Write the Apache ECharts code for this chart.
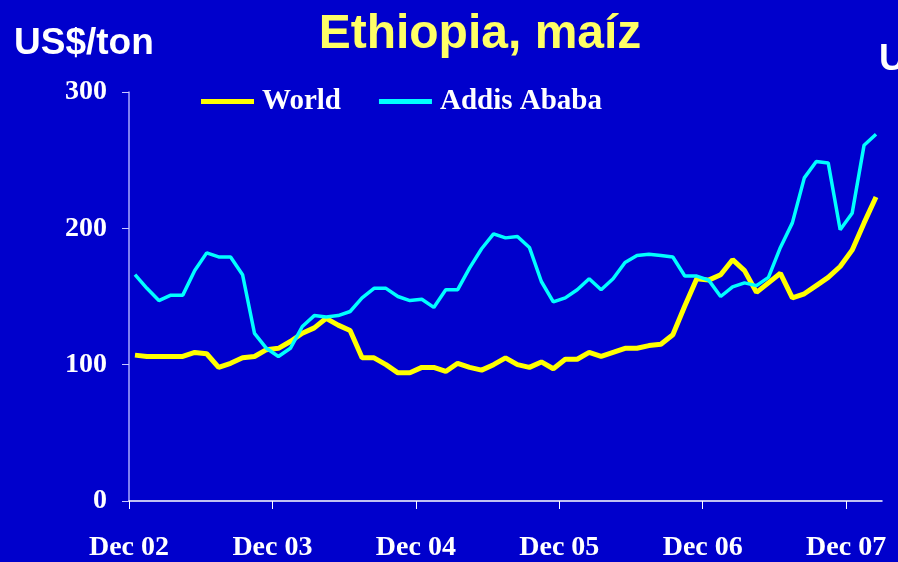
<!DOCTYPE html>
<html>
<head>
<meta charset="utf-8">
<script src="https://cdn.jsdelivr.net/npm/echarts@6/dist/echarts.min.js"></script>
<style>
  html, body { margin: 0; padding: 0; background: #0000cc; }
  #chart { width: 898px; height: 562px; }
</style>
</head>
<body>
<div id="chart"></div>
<script>
// months after Dec 02, one point per month (mid-month)
const tickLabels = ['Dec 02', 'Dec 03', 'Dec 04', 'Dec 05', 'Dec 06', 'Dec 07'];
const tickValues = [0, 12, 24, 36, 48, 60];
const yTicks = [0, 100, 200, 300];

// World maize price, US$/ton
const world = [
  107, 106, 106, 106, 106, 109, 108, 98, 101, 105, 106, 111,
  112, 117, 123, 127, 134, 129, 125, 105, 105, 100, 94, 94,
  98, 98, 95, 101, 98, 96, 100, 105, 100, 98, 102, 97,
  104, 104, 109, 106, 109, 112, 112, 114, 115, 122, 143, 163,
  162, 166, 177, 169, 153, 160, 167, 149, 152, 158, 164, 172,
  184, 204, 223
];

// Addis Ababa maize price, US$/ton
const addis = [
  166, 156, 147, 151, 151, 169, 182, 179, 179, 166, 123, 112,
  106, 112, 128, 136, 135, 136, 139, 149, 156, 156, 150, 147,
  148, 142, 155, 155, 171, 185, 196, 193, 194, 186, 161, 146,
  149, 155, 163, 155, 163, 175, 180, 181, 180, 179, 165, 165,
  162, 150, 157, 160, 158, 164, 186, 204, 237, 249, 248, 199,
  211, 261, 269
];

const chart = echarts.init(document.getElementById('chart'));

const serif = '"Liberation Serif", "Times New Roman", serif';
const sans = '"Liberation Sans", Arial, sans-serif';

chart.setOption({
  backgroundColor: '#0000cc',
  animation: false,
  title: {
    text: 'Ethiopia, maíz',
    left: 475,
    textAlign: 'center',
    top: 6,
    textStyle: { color: '#ffff66', fontFamily: sans, fontWeight: 'bold', fontSize: 48 }
  },
  graphic: [
    {
      type: 'text', left: 14, top: 25,
      style: { text: 'US$/ton', fill: '#ffffff', font: 'bold 37px ' + sans }
    },
    {
      type: 'text', left: 879, top: 41,
      style: { text: 'US$/ton', fill: '#ffffff', font: 'bold 37px ' + sans }
    }
  ],
  legend: {
    left: 201,
    top: 87,
    padding: 0,
    icon: 'rect',
    itemWidth: 53,
    itemHeight: 5,
    itemGap: 38,
    textStyle: { color: '#ffffff', fontFamily: serif, fontWeight: 'bold', fontSize: 29, padding: [0, 0, 0, 3] },
    data: ['World', 'Addis Ababa']
  },
  grid: { left: 129, right: 16, top: 92, bottom: 59, containLabel: false },
  xAxis: {
    type: 'value',
    min: 0,
    max: 63,
    splitLine: { show: false },
    axisLine: { lineStyle: { color: '#ffffff', width: 1.5 } },
    axisTick: { show: true, length: 8, customValues: tickValues, lineStyle: { color: '#ffffff' } },
    axisLabel: {
      customValues: tickValues,
      color: '#ffffff',
      fontFamily: serif,
      fontWeight: 'bold',
      fontSize: 28,
      margin: 33,
      formatter: function (v) {
        const k = tickValues.indexOf(v);
        return k >= 0 ? tickLabels[k] : '';
      }
    }
  },
  yAxis: {
    type: 'value',
    min: 0,
    max: 300,
    interval: 100,
    splitLine: { show: false },
    axisLine: { show: true, lineStyle: { color: '#a8a8ff', width: 1.5 } },
    axisTick: { show: true, length: 7, lineStyle: { color: '#c8c8ff' } },
    axisLabel: {
      color: '#ffffff',
      fontFamily: serif,
      fontWeight: 'bold',
      fontSize: 28,
      margin: 22,
      formatter: function (v) { return yTicks.indexOf(v) >= 0 ? String(v) : ''; }
    }
  },
  series: [
    {
      name: 'World',
      type: 'line',
      data: world.map((v, i) => [i + 0.5, v]),
      symbol: 'none',
      lineStyle: { color: '#ffff00', width: 5 },
      itemStyle: { color: '#ffff00' },
      z: 3
    },
    {
      name: 'Addis Ababa',
      type: 'line',
      data: addis.map((v, i) => [i + 0.5, v]),
      symbol: 'none',
      lineStyle: { color: '#00ffff', width: 3.5 },
      itemStyle: { color: '#00ffff' },
      z: 4
    }
  ]
});
</script>
</body>
</html>
